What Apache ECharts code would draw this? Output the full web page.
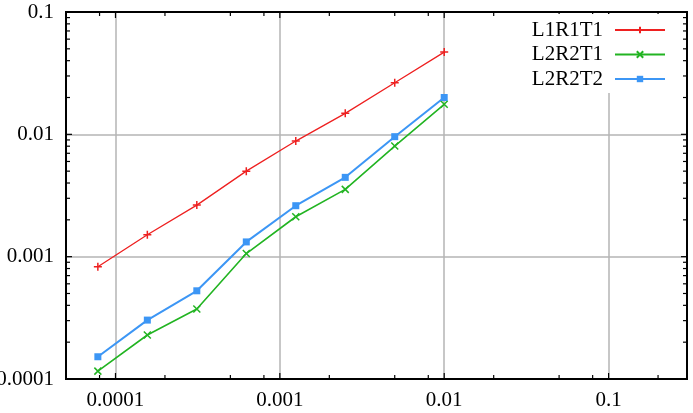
<!DOCTYPE html>
<html>
<head>
<meta charset="utf-8">
<script src="https://cdn.jsdelivr.net/npm/echarts@6/dist/echarts.min.js"></script>
<style>html,body{margin:0;padding:0;background:#fff;}#c{width:693px;height:413px;}</style>
</head>
<body>
<div id="c"></div>
<script>
// ---- data ----
const xValues = [7.8125e-5, 1.5625e-4, 3.125e-4, 6.25e-4, 1.25e-3, 2.5e-3, 5e-3, 1e-2];
const seriesNames = ['L1R1T1', 'L2R2T1', 'L2R2T2'];
const L1R1T1 = [8.26e-4, 1.51e-3, 2.64e-3, 5.0e-3, 8.81e-3, 1.485e-2, 2.64e-2, 4.7e-2];
const L2R2T1 = [1.16e-4, 2.29e-4, 3.73e-4, 1.06e-3, 2.12e-3, 3.55e-3, 8.02e-3, 1.76e-2];
const L2R2T2 = [1.52e-4, 3.03e-4, 5.26e-4, 1.32e-3, 2.61e-3, 4.45e-3, 9.57e-3, 2.0e-2];
const xMajorTicks = [1e-4, 1e-3, 1e-2, 1e-1];
const xMinorTicks = [8e-5, 2e-4, 5e-4, 8e-4, 2e-3, 5e-3, 8e-3, 2e-2, 5e-2, 8e-2, 2e-1];
const yMajorTicks = [1e-4, 1e-3, 1e-2, 1e-1];
const yMinorTicks = [];
[1e-4, 1e-3, 1e-2].forEach(function (d) { [2,3,4,5,6,7,8,9].forEach(function (m) { yMinorTicks.push(+(m * d).toPrecision(3)); }); });

const X_MIN = 5e-5, X_MAX = 0.3, Y_MIN = 1e-4, Y_MAX = 0.1;
const FONT = 'Liberation Serif';
const colors = ['#ee2020', '#22b422', '#3c96f5'];

function fmt(v) { return String(Number((+v).toPrecision(3))); }
function pairs(ys) { return xValues.map(function (x, i) { return [x, ys[i]]; }); }

function tickRenderer(isX) {
  return function (params, api) {
    const cs = params.coordSys;
    const v = api.value(0);
    const len = api.value(1);
    const st = { stroke: '#000', lineWidth: 1.2 };
    if (isX) {
      const x = api.coord([v, 1e-3])[0];
      const b = cs.y + cs.height, t = cs.y;
      return { type: 'group', children: [
        { type: 'line', shape: { x1: x, y1: b, x2: x, y2: b - len }, style: st },
        { type: 'line', shape: { x1: x, y1: t, x2: x, y2: t + len }, style: st }
      ]};
    } else {
      const y = api.coord([1e-3, v])[1];
      const l = cs.x, r = cs.x + cs.width;
      return { type: 'group', children: [
        { type: 'line', shape: { x1: l, y1: y, x2: l + len, y2: y }, style: st },
        { type: 'line', shape: { x1: r, y1: y, x2: r - len, y2: y }, style: st }
      ]};
    }
  };
}

const chart = echarts.init(document.getElementById('c'), null, { renderer: 'canvas' });
chart.setOption({
  animation: false,
  backgroundColor: '#fff',
  textStyle: { fontFamily: FONT },
  grid: { left: 66, top: 12, right: 6, bottom: 34, show: true, borderColor: '#000', borderWidth: 2, backgroundColor: 'transparent', z: 10,
          containLabel: false, outerBoundsMode: 'none' },
  xAxis: {
    type: 'log', logBase: 10, min: X_MIN, max: X_MAX,
    axisLine: { show: false }, axisTick: { show: false },
    axisLabel: { color: '#000', fontFamily: FONT, fontSize: 21, margin: 11, showMinLabel: false, showMaxLabel: false, formatter: fmt },
    splitLine: { show: true, lineStyle: { color: '#b4b4b4', width: 1.5 } }
  },
  yAxis: {
    type: 'log', logBase: 10, min: Y_MIN, max: Y_MAX,
    axisLine: { show: false }, axisTick: { show: false },
    axisLabel: { color: '#000', fontFamily: FONT, fontSize: 21, margin: 12, formatter: fmt },
    splitLine: { show: true, lineStyle: { color: '#b4b4b4', width: 1.5 } }
  },
  legend: {
    orient: 'vertical', right: 19, top: 14, align: 'right',
    padding: [5, 8, 3, 8], itemGap: 2.5, itemWidth: 50, itemHeight: 8,
    backgroundColor: '#fff', z: 20,
    data: seriesNames,
    textStyle: { color: '#000', fontFamily: FONT, fontSize: 21, lineHeight: 22, padding: [0, 7, 0, 0] }
  },
  series: [
    { name: seriesNames[0], type: 'line', data: pairs(L1R1T1), symbol: 'path://M0,5H10M5,0V10', symbolSize: 8,
      lineStyle: { color: colors[0], width: 1.3 }, itemStyle: { color: colors[0], borderColor: colors[0], borderWidth: 1.5 }, z: 5 },
    { name: seriesNames[1], type: 'line', data: pairs(L2R2T1), symbol: 'path://M0,0L10,10M10,0L0,10', symbolSize: 7,
      lineStyle: { color: colors[1], width: 1.6 }, itemStyle: { color: colors[1], borderColor: colors[1], borderWidth: 1.5 }, z: 5 },
    { name: seriesNames[2], type: 'line', data: pairs(L2R2T2), symbol: 'rect', symbolSize: 7,
      lineStyle: { color: colors[2], width: 2 }, itemStyle: { color: colors[2] }, z: 5 },
    { type: 'custom', silent: true, clip: false, z: 12, renderItem: tickRenderer(true),
      data: xMajorTicks.map(function (v) { return [v, 6]; }).concat(xMinorTicks.map(function (v) { return [v, 4]; })) },
    { type: 'custom', silent: true, clip: false, z: 12, renderItem: tickRenderer(false),
      encode: { x: 1, y: 0 },
      data: yMajorTicks.map(function (v) { return [v, 6]; }).concat(yMinorTicks.map(function (v) { return [v, 4]; })) }
  ]
});
</script>
</body>
</html>
